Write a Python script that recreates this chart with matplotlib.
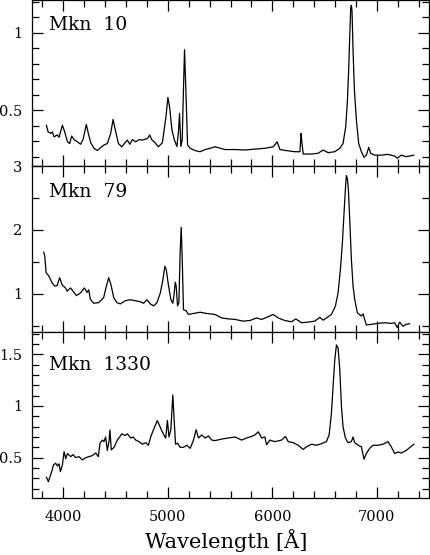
import matplotlib
matplotlib.use("Agg")
import matplotlib.pyplot as plt
from matplotlib.ticker import MultipleLocator, FuncFormatter

# ---- data ----
names = ["Mkn  10", "Mkn  79", "Mkn  1330"]

wl_mkn10 = [3838, 3854, 3879, 3895, 3911, 3943, 3959, 3991, 4013, 4039, 4061, 4080,
            4102, 4134, 4166, 4188, 4220, 4239, 4262, 4294, 4326, 4357, 4389, 4421,
            4453, 4476, 4495, 4527, 4559, 4591, 4613, 4636, 4661, 4693, 4725, 4757,
            4804, 4827, 4846, 4878, 4909, 4948, 4982,
            5001, 5017, 5040, 5062, 5087, 5103, 5112, 5125, 5138, 5150, 5160, 5176,
            5189, 5214, 5262, 5309, 5357, 5405, 5452, 5547, 5643, 5738, 5834, 5929,
            6009, 6047, 6073, 6136, 6216, 6264, 6276, 6282, 6296, 6375, 6439, 6486,
            6534, 6598, 6646, 6677, 6703, 6719, 6732, 6744, 6751, 6757, 6763, 6773,
            6786, 6805, 6827, 6853, 6878, 6900, 6923, 6942, 6980, 7044, 7107, 7171,
            7196, 7235, 7282, 7314, 7355]
fx_mkn10 = [0.403, 0.360, 0.350, 0.360, 0.328, 0.340, 0.325, 0.403, 0.360, 0.296, 0.285, 0.333,
            0.310, 0.296, 0.280, 0.310, 0.408, 0.350, 0.290, 0.254, 0.240, 0.259, 0.275, 0.285,
            0.350, 0.440, 0.380, 0.285, 0.264, 0.290, 0.307, 0.280, 0.310, 0.296, 0.310, 0.307,
            0.317, 0.340, 0.310, 0.290, 0.264, 0.290, 0.457,
            0.582, 0.520, 0.370, 0.310, 0.265, 0.370, 0.479, 0.266, 0.310, 0.640, 0.890, 0.560,
            0.275, 0.254, 0.239, 0.232, 0.246, 0.254, 0.264, 0.246, 0.246, 0.243, 0.249, 0.254,
            0.264, 0.296, 0.246, 0.239, 0.232, 0.232, 0.350, 0.300, 0.217, 0.217, 0.222, 0.243,
            0.226, 0.232, 0.254, 0.285, 0.393, 0.560, 0.775, 1.034, 1.160, 1.175, 1.140, 0.886,
            0.630, 0.436, 0.285, 0.232, 0.196, 0.210, 0.260, 0.222, 0.210, 0.210, 0.215, 0.204,
            0.190, 0.210, 0.200, 0.204, 0.210]

wl_mkn79 = [3812, 3822, 3835, 3860, 3892, 3917, 3940, 3965, 3988, 4020, 4036, 4068,
            4093, 4125, 4163, 4201, 4227, 4243, 4259, 4291, 4339, 4386, 4412, 4434,
            4456, 4482, 4513, 4545, 4593, 4641, 4689, 4736, 4768, 4800, 4832, 4864,
            4896, 4928, 4953, 4972, 4985, 5007, 5029, 5048, 5061, 5071, 5080, 5093,
            5106, 5118, 5128, 5138, 5150, 5176, 5198, 5246, 5309, 5373, 5452, 5516,
            5579, 5643, 5723, 5786, 5850, 5898, 5961, 6009, 6057, 6120, 6184, 6225,
            6280, 6343, 6407, 6455, 6487, 6518, 6566, 6604, 6630, 6652, 6671, 6687,
            6700, 6709, 6719, 6728, 6741, 6757, 6773, 6789, 6814, 6853, 6869, 6884,
            6900, 6948, 7012, 7075, 7139, 7171, 7196, 7219, 7250, 7282, 7314]
fx_mkn79 = [1.65, 1.59, 1.33, 1.28, 1.17, 1.12, 1.125, 1.25, 1.14, 1.09, 1.04, 1.09,
            1.04, 0.97, 1.01, 1.09, 1.02, 1.06, 0.91, 0.85, 0.86, 0.94, 1.12, 1.25,
            1.14, 0.94, 0.86, 0.84, 0.89, 0.905, 0.89, 0.875, 0.85, 0.905, 0.84, 0.81,
            0.86, 1.01, 1.22, 1.43, 1.38, 1.12, 0.91, 0.85, 1.00, 1.18, 1.12, 0.81,
            0.86, 1.64, 2.04, 1.54, 0.75, 0.73, 0.675, 0.69, 0.71, 0.69, 0.675, 0.62,
            0.605, 0.597, 0.57, 0.58, 0.62, 0.597, 0.64, 0.675, 0.62, 0.58, 0.56, 0.605,
            0.545, 0.555, 0.57, 0.63, 0.585, 0.62, 0.675, 0.805, 1.015, 1.38, 1.80, 2.27,
            2.64, 2.85, 2.80, 2.64, 2.17, 1.54, 1.12, 0.91, 0.70, 0.65, 0.685, 0.597,
            0.51, 0.52, 0.535, 0.545, 0.535, 0.545, 0.47, 0.555, 0.49, 0.52, 0.53]

wl_mkn1330 = [3838, 3857, 3870, 3889, 3905, 3927, 3943, 3959, 3972, 3991, 4007, 4023,
              4039, 4071, 4093, 4118, 4150, 4182, 4214, 4246, 4278, 4310, 4335, 4351,
              4374, 4389, 4405, 4421, 4437, 4446, 4459, 4485, 4517, 4539, 4559, 4591,
              4613, 4645, 4667, 4693, 4725, 4757, 4789, 4814, 4836, 4868, 4900, 4932,
              4964, 4980, 4996, 5011,
              5029, 5048, 5061, 5074, 5093, 5118, 5150, 5182, 5214, 5246,
              5271, 5294, 5325, 5357, 5389, 5421, 5452, 5516, 5579, 5643, 5707, 5754,
              5802, 5834, 5866, 5898, 5929, 5945, 5977, 6025, 6089, 6127, 6152, 6200,
              6248, 6295, 6327, 6375, 6423, 6471, 6518, 6544, 6566, 6582, 6598, 6614,
              6630, 6646, 6662, 6677, 6700, 6725, 6757, 6773, 6789, 6821, 6853, 6878,
              6900, 6932, 6964, 7012, 7060, 7107, 7139, 7171, 7203, 7235, 7282, 7330,
              7356]
fx_mkn1330 = [0.310, 0.268, 0.310, 0.365, 0.430, 0.446, 0.420, 0.440, 0.365, 0.430, 0.558, 0.490,
              0.540, 0.510, 0.530, 0.500, 0.510, 0.478, 0.500, 0.510, 0.520, 0.545, 0.510, 0.640,
              0.670, 0.655, 0.700, 0.570, 0.655, 0.768, 0.575, 0.600, 0.670, 0.700, 0.730, 0.715,
              0.730, 0.690, 0.700, 0.670, 0.655, 0.630, 0.645, 0.620, 0.700, 0.784, 0.858, 0.784,
              0.715, 0.690, 0.860, 0.700,
              0.770, 1.106, 0.860, 0.630, 0.640, 0.600, 0.600, 0.620, 0.590, 0.670,
              0.770, 0.690, 0.720, 0.690, 0.710, 0.670, 0.665, 0.680, 0.690, 0.700, 0.670, 0.690,
              0.705, 0.720, 0.750, 0.690, 0.700, 0.625, 0.670, 0.655, 0.670, 0.705, 0.655, 0.645,
              0.620, 0.580, 0.605, 0.630, 0.620, 0.635, 0.655, 0.720, 0.930, 1.190, 1.445, 1.590,
              1.560, 1.350, 0.995, 0.800, 0.690, 0.645, 0.655, 0.700, 0.645, 0.620, 0.605, 0.485,
              0.540, 0.590, 0.620, 0.620, 0.630, 0.655, 0.605, 0.540, 0.555, 0.545, 0.570, 0.610,
              0.630]

spectra = [(wl_mkn10, fx_mkn10), (wl_mkn79, fx_mkn79), (wl_mkn1330, fx_mkn1330)]
ylims = [(0.14, 1.21), (0.40, 3.0), (0.11, 1.715)]
ymajor = [0.5, 1.0, 0.5]
yminor = [0.1, 0.5, 0.1]
xlabel = "Wavelength [Å]"

# ---- figure ----
plt.rcParams['font.family'] = ['DejaVu Serif']
W, H = 430, 555
fig = plt.figure(figsize=(W / 100, H / 100), dpi=100)

left, right = 32 / W, 429 / W
bounds = [(0, 166), (166, 332), (332, 498)]
label_y = [0.852, 0.846, 0.800]
fmt = FuncFormatter(lambda v, p: "%g" % v)

for i, ((top_px, bot_px), (wl, fx)) in enumerate(zip(bounds, spectra)):
    ax = fig.add_axes([left, 1 - bot_px / H, right - left, (bot_px - top_px) / H])
    ax.plot(wl, fx, color="black", lw=0.9)
    ax.set_xlim(3700, 7500)
    ax.set_ylim(*ylims[i])
    ax.xaxis.set_major_locator(MultipleLocator(1000))
    ax.xaxis.set_minor_locator(MultipleLocator(200))
    ax.yaxis.set_major_locator(MultipleLocator(ymajor[i]))
    ax.yaxis.set_minor_locator(MultipleLocator(yminor[i]))
    ax.yaxis.set_major_formatter(fmt)
    ax.xaxis.set_major_formatter(fmt)
    ax.tick_params(which="both", direction="in", top=True, right=True,
                   width=0.9, labelsize=10.5, colors="black")
    ax.tick_params(which="major", length=7.8)
    ax.tick_params(which="minor", length=4.8)
    ax.tick_params(axis="y", pad=7)
    ax.tick_params(axis="x", pad=8.5)
    for s in ax.spines.values():
        s.set_linewidth(0.9)
    if i < 2:
        ax.tick_params(axis="x", labelbottom=False)
    ax.text(0.043, label_y[i], names[i], transform=ax.transAxes, fontsize=13.5,
            ha="left", va="center")

fig.text(226 / W, 1 - 540 / H, xlabel, ha="center", va="center", fontsize=15)

fig.savefig("out.png", dpi=100)
